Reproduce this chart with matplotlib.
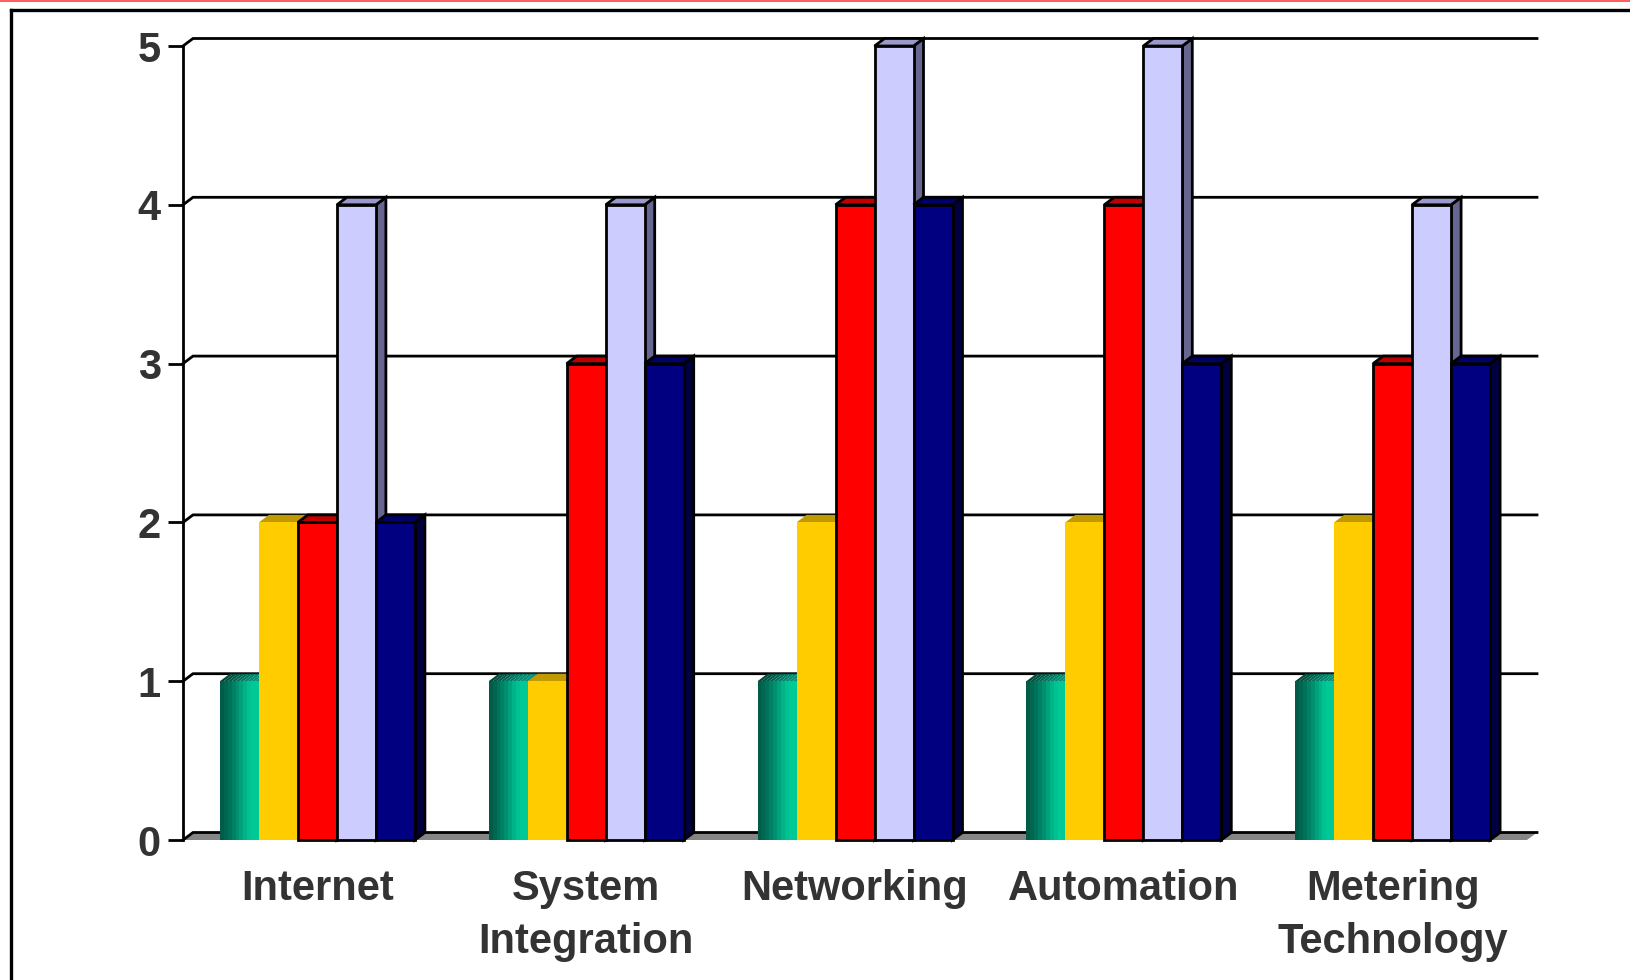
import numpy as np
import matplotlib
matplotlib.use('Agg')
import matplotlib.pyplot as plt
from matplotlib.patches import Polygon
from matplotlib.lines import Line2D

plt.rcParams['font.family'] = ['Liberation Sans', 'DejaVu Sans']

# --- data ---
categories = ['Internet', 'System\nIntegration', 'Networking', 'Automation', 'Metering\nTechnology']
teal = [1, 1, 1, 1, 1]
yellow = [2, 1, 2, 2, 2]
red = [2, 3, 4, 4, 3]
lavender = [4, 4, 5, 5, 4]
navy = [2, 3, 4, 3, 3]
series = [teal, yellow, red, lavender, navy]
yticks = [0, 1, 2, 3, 4, 5]

# --- styles: front / top / side colours ---
face_cols = ['#00c896', '#ffcc00', '#ff0000', '#ccccff', '#000080']
top_cols = ['#007a5e', '#c09a00', '#c00000', '#9999cc', '#00006a']
side_cols = ['#004c3c', '#806600', '#800000', '#666690', '#000040']
outlined = [False, False, True, True, True]
# teal bar is shaded like a cylinder, dark on the left
teal_strips = ['#005c47', '#00664f', '#007259', '#008064', '#009070',
               '#00a27c', '#00b488', '#00c291', '#00c896', '#00c896']
teal_strips_top = ['#004a3a', '#005240', '#005c48', '#006650', '#00705a',
                   '#007a62', '#00846a', '#008c70', '#009074', '#009074']

W, H = 1630, 980
fig = plt.figure(figsize=(W / 100, H / 100), dpi=100)

# axes box in pixels (front plane of the 3d chart)
ax_l, ax_r, ax_t, ax_b = 183, 1527, 46, 840
ax = fig.add_axes([ax_l / W, 1 - ax_b / H, (ax_r - ax_l) / W, (ax_b - ax_t) / H])
ax.set_xlim(-0.5, 4.5)
ax.set_ylim(0, 5)
ax.patch.set_alpha(0)

px_x = 5 / (ax_r - ax_l)
px_y = 5 / (ax_b - ax_t)
DX, DY = 10 * px_x, 7.5 * px_y   # depth offset
bw = 39 * px_x                   # bar width
lw = 2.0

# floor
ax.add_patch(Polygon([(-0.5, 0), (4.5, 0), (4.5 + DX, DY), (-0.5 + DX, DY)],
                     closed=True, facecolor='#858585', edgecolor='none',
                     clip_on=False, zorder=1))

# back wall grid lines with the diagonal back to the axis
for v in yticks:
    ax.plot([-0.5, -0.5 + DX, 4.5 + DX], [v, v + DY, v + DY], color='black',
            lw=lw, clip_on=False, solid_joinstyle='miter', zorder=2)

# bars, painted left to right
z = 3
for i in range(len(categories)):
    for k, s in enumerate(series):
        h = s[i]
        x0 = i + (k - 2.5) * bw
        ec = 'black' if outlined[k] else 'none'
        side = Polygon([(x0 + bw, 0), (x0 + bw + DX, DY), (x0 + bw + DX, h + DY), (x0 + bw, h)],
                       closed=True, facecolor=side_cols[k], edgecolor=ec, lw=lw,
                       joinstyle='miter', clip_on=False, zorder=z)
        ax.add_patch(side)
        if k == 0:
            n = len(teal_strips)
            sw = bw / n
            for j in range(n):
                xs = x0 + j * sw
                ax.add_patch(Polygon([(xs, h), (xs + DX, h + DY), (xs + sw + DX, h + DY), (xs + sw, h)],
                                     closed=True, facecolor=teal_strips_top[j], edgecolor='none',
                                     clip_on=False, zorder=z + 0.1))
                ax.bar(xs, h, sw * 1.02, align='edge', color=teal_strips[j],
                       edgecolor='none', zorder=z + 0.2)
        else:
            top = Polygon([(x0, h), (x0 + DX, h + DY), (x0 + bw + DX, h + DY), (x0 + bw, h)],
                          closed=True, facecolor=top_cols[k], edgecolor=ec, lw=lw,
                          joinstyle='miter', clip_on=False, zorder=z + 0.1)
            ax.add_patch(top)
            ax.bar(x0, h, bw, align='edge', color=face_cols[k], edgecolor=ec,
                   lw=lw, joinstyle='miter', zorder=z + 0.2, clip_on=False)
        z += 1

# axes decoration
for sp in ['top', 'right', 'bottom']:
    ax.spines[sp].set_visible(False)
ax.spines['left'].set_linewidth(lw)
ax.spines['left'].set_zorder(50)
ax.set_yticks(yticks)
ax.set_yticklabels([str(t) for t in yticks], fontsize=30, fontweight='bold', color='#333333')
ax.tick_params(axis='y', direction='out', length=11, width=lw, pad=5)
ax.set_xticks(range(len(categories)))
ax.set_xticklabels(categories, fontsize=30, fontweight='bold', color='#333333',
                   linespacing=1.42)
ax.tick_params(axis='x', length=0, pad=21)

# slide frame
fig.add_artist(Line2D([0, 1], [1 - 0.8 / H, 1 - 0.8 / H], color='#ff4040', lw=1.2,
                      transform=fig.transFigure))
fig.add_artist(Line2D([11 / W, 1], [1 - 10 / H, 1 - 10 / H], color='black', lw=2.4,
                      transform=fig.transFigure, solid_capstyle='projecting'))
fig.add_artist(Line2D([11 / W, 11 / W], [0, 1 - 10 / H], color='black', lw=2.4,
                      transform=fig.transFigure, solid_capstyle='projecting'))

fig.savefig('out.png', dpi=100, facecolor='white')
